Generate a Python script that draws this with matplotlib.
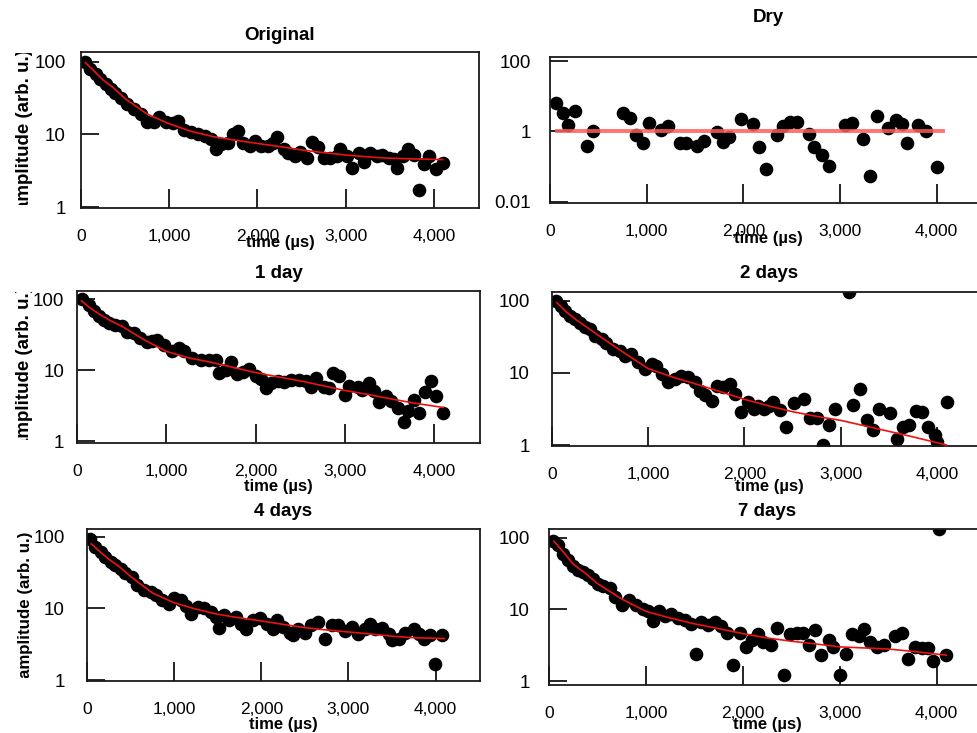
import matplotlib.pyplot as plt
from matplotlib.ticker import FixedLocator, NullLocator, FuncFormatter
from matplotlib.transforms import Bbox, TransformedBbox

plt.rcParams['font.family'] = ['Liberation Sans', 'DejaVu Sans']

W, H = 978, 733

titles = ["Original", "Dry", "1 day", "2 days", "4 days", "7 days"]

# time grid of the fitted curves (us)
fit_t = [50, 150, 250, 375, 500, 750, 1000, 1250, 1500, 1750, 2000,
         2250, 2500, 2750, 3000, 3250, 3500, 3750, 4100]

# --- Original ---
orig_t = [50, 105, 165, 220, 280, 335, 390, 450, 525, 600, 675, 750, 830, 885, 960,
          1040, 1095, 1170, 1245, 1325, 1400, 1475, 1530, 1590, 1665, 1720, 1780,
          1835, 1910, 1970, 2045, 2120, 2180, 2225, 2295, 2350, 2425, 2485, 2560,
          2615, 2690, 2750, 2825, 2900, 2940, 3015, 3070, 3150, 3205, 3280, 3355,
          3415, 3490, 3545, 3585, 3645, 3700, 3775, 3835, 3890, 3945, 4025, 4100]
orig_amp = [100, 80, 68, 58, 50, 42, 37, 32, 26, 22, 19, 15, 15, 17.5, 15,
            14.5, 15.5, 11.6, 10.7, 10.2, 9.4, 8.7, 6.3, 7.3, 7.6, 10, 11,
            7.6, 7, 8.2, 7, 7, 7.6, 9.1, 6.3, 5.5, 5, 5.8, 4.8,
            7.8, 6.8, 4.8, 4.7, 5, 6.3, 5.1, 3.5, 5.5, 4.2, 5.5, 5,
            5.2, 4.8, 4.6, 3.5, 5, 6.3, 5.2, 1.7, 3.9, 5, 3.3, 4]
orig_fit = [97, 74, 56, 43, 31, 19, 14, 11, 9.3, 8.3, 7.5,
            6.8, 6.1, 5.6, 5.2, 4.9, 4.7, 4.6, 4.5]

# --- Dry ---
dry_t = [60, 130, 190, 260, 385, 440, 760, 830, 890, 965,
         1020, 1150, 1225, 1340, 1410, 1520, 1590, 1725, 1790, 1850,
         1975, 2100, 2160, 2230, 2350, 2410, 2480, 2550, 2675, 2735,
         2810, 2885, 3055, 3125, 3240, 3310, 3380, 3495, 3575, 3645,
         3695, 3805, 3885, 4005]
dry_amp = [6.2, 3.4, 1.55, 3.7, 0.38, 1.0, 3.4, 2.4, 0.8, 0.48,
           1.7, 1.07, 1.4, 0.48, 0.48, 0.38, 0.52, 0.96, 0.5, 0.69,
           2.3, 1.58, 0.36, 0.086, 0.78, 1.4, 1.85, 1.85, 0.82, 0.36,
           0.21, 0.107, 1.55, 1.75, 0.62, 0.053, 2.7, 1.25, 2.15, 1.58,
           0.48, 1.48, 1.0, 0.1]
dry_fit_t = [70, 4070]
dry_fit = [1.03, 1.03]

# --- 1 day ---
day1_t = [55, 130, 185, 245, 300, 355, 430, 505, 560, 635,
          710, 785, 840, 895, 970, 1065, 1140, 1195, 1290, 1385, 1475,
          1550, 1590, 1665, 1720, 1795, 1860, 1925, 2000, 2055, 2110, 2170,
          2245, 2320, 2395, 2485, 2560, 2615, 2675, 2765, 2820, 2860,
          2935, 3000, 3045, 3140, 3195, 3265, 3325, 3385, 3460, 3515,
          3590, 3655, 3700, 3775, 3825, 3900, 3965, 4020, 4095]
day1_amp = [100, 84, 68, 58, 52, 46, 44, 42, 35, 34,
            29, 25, 26, 27, 23, 18.5, 20.6, 18.5, 15, 14.2, 14.2,
            14.2, 9.2, 10.2, 13.1, 8.9, 9.6, 10.6, 8.2, 7.6, 5.6, 6.6,
            7.2, 6.9, 7.4, 7.4, 7, 5.8, 7.8, 5.8, 5.6, 9.2,
            8.2, 4.5, 6, 5.8, 5.3, 6.6, 5.2, 3.6, 4.4, 3.7,
            3.0, 1.9, 2.7, 3.8, 2.5, 5, 7.2, 4.3, 2.5]
day1_fit = [95, 75, 62, 50, 42, 27, 18.5, 15, 13, 11, 9.3,
            8.1, 7.1, 6.1, 5.2, 4.6, 4.0, 3.5, 3.0]

# --- 2 days ---
day2_t = [45, 95, 130, 185, 235, 290, 340, 390, 445, 515,
          565, 635, 705, 755, 825, 895, 965, 1035, 1085, 1140,
          1210, 1280, 1345, 1415, 1485, 1540, 1590, 1660, 1710, 1780,
          1850, 1905, 1965, 2040, 2095, 2145, 2200, 2250, 2300, 2370,
          2430, 2510, 2615, 2685, 2755, 2815, 2875, 2940, 3085, 3125,
          3200, 3275, 3335, 3395, 3515, 3590, 3645, 3710, 3780, 3845,
          3910, 3980, 4000, 4100]
day2_amp = [100, 85, 73, 62, 56, 49, 44, 41, 33, 30,
            26, 21.5, 20, 17.3, 18.3, 14.4, 11.3, 13.3, 12.6, 9.7,
            7.4, 8.2, 9.2, 8.7, 7.4, 5.7, 4.9, 4.1, 6.7, 6.3,
            7.1, 5.1, 2.9, 3.9, 3.2, 3.5, 3.2, 3.5, 4.0, 3.1,
            1.8, 3.8, 4.4, 2.4, 2.4, 1.0, 1.9, 3.2, 135, 3.6,
            6.0, 2.2, 1.6, 3.2, 2.8, 1.2, 1.8, 1.9, 3.0, 2.9,
            1.8, 1.4, 1.1, 4.0]
day2_fit = [95, 70, 55, 42, 32, 19, 11.5, 8.8, 7, 5.5, 4.3,
            3.5, 2.9, 2.5, 2.2, 1.85, 1.55, 1.3, 1.0]

# --- 4 days ---
day4_t = [40, 95, 155, 210, 270, 325, 385, 440, 520, 575,
          655, 730, 790, 865, 940, 1000, 1075, 1135, 1190, 1270,
          1345, 1425, 1480, 1520, 1575, 1635, 1710, 1770, 1825, 1905,
          1980, 2060, 2135, 2175, 2250, 2325, 2365, 2425, 2500, 2575,
          2655, 2730, 2810, 2885, 2960, 3040, 3115, 3190, 3250, 3310,
          3385, 3460, 3500, 3575, 3655, 3750, 3810, 3865, 3940, 3990,
          4075]
day4_amp = [95, 72, 62, 52, 45, 40, 36, 31, 27.5, 21,
            18, 17, 15.2, 13, 11.6, 14, 13.3, 11, 8.4, 10.4,
            10.2, 8.9, 7.7, 5.4, 8.2, 6.8, 7.6, 6.1, 5.2, 6.8,
            7.4, 6.1, 5.2, 6.8, 5.5, 4.6, 4.3, 5.2, 4.6, 5.8,
            6.4, 3.8, 5.8, 5.8, 4.9, 5.5, 4.4, 5.2, 6, 5.2,
            5.4, 4.4, 3.6, 3.8, 4.6, 5.2, 4.4, 3.8, 4.2, 1.7,
            4.3]
day4_fit = [80, 62, 49, 38, 28, 16.5, 12, 9.8, 8.3, 7.4, 6.7,
            6.0, 5.4, 5.0, 4.7, 4.4, 4.1, 3.9, 3.8]

# --- 7 days ---
day7_t = [40, 90, 140, 195, 245, 295, 350, 400, 450, 505,
          555, 625, 685, 750, 830, 900, 970, 1020, 1070, 1140,
          1195, 1260, 1330, 1400, 1470, 1520, 1570, 1640, 1715, 1780,
          1840, 1900, 1970, 2030, 2090, 2160, 2210, 2295, 2355, 2430,
          2485, 2555, 2625, 2685, 2745, 2805, 2885, 2935, 3000, 3065,
          3130, 3195, 3255, 3315, 3385, 3460, 3570, 3640, 3710, 3780,
          3850, 3915, 3960, 4030, 4095]
day7_amp = [91, 79, 60, 49, 41, 36, 33, 30, 27, 23,
            21, 20, 15, 11.5, 13.7, 11.5, 10.2, 9.5, 7.0, 9.5,
            8.0, 8.5, 7.6, 7.2, 6.2, 2.4, 6.6, 6.0, 6.6, 5.8,
            4.7, 1.65, 4.7, 3.0, 3.7, 4.5, 3.5, 3.2, 5.5, 1.2,
            4.5, 4.7, 4.7, 3.2, 5.2, 2.3, 3.7, 3.0, 1.2, 2.4,
            4.5, 4.2, 5.4, 3.5, 3.0, 3.2, 4.3, 4.7, 2.0, 3.0,
            2.9, 2.9, 1.9, 135, 2.3]
day7_fit = [90, 63, 43, 32, 23, 14, 9.4, 7.6, 6.3, 5.4, 4.6,
            4.0, 3.6, 3.3, 3.0, 2.9, 2.8, 2.6, 2.3]

series = [
    (orig_t, orig_amp, fit_t, orig_fit),
    (dry_t, dry_amp, dry_fit_t, dry_fit),
    (day1_t, day1_amp, fit_t, day1_fit),
    (day2_t, day2_amp, fit_t, day2_fit),
    (day4_t, day4_amp, fit_t, day4_fit),
    (day7_t, day7_amp, fit_t, day7_fit),
]

# panel boxes in pixels: left, top, right, bottom
boxes = [(81, 52, 479, 208), (550, 57, 986, 203),
         (77, 291, 480, 443), (552, 292, 986, 446),
         (87, 529, 480, 681), (549, 529, 986, 685)]
ylims = [(0.97, 136), (0.0092, 130), (0.95, 131), (0.97, 133), (0.97, 129), (0.88, 133)]
ypads = [11, 14, 9, 16, 16, 14]
ylabel_sizes = [13.5, None, 13.5, None, 12.2, None]
title_pads = [9, 25, 9.5, 10, 9.4, 9.4]
xlabel_offsets = [35, 36, 44, 41, 44, 39]


def fig_box(fig, x0, y0, x1, y1):
    return TransformedBbox(Bbox.from_extents(x0 / W, 1 - y1 / H, x1 / W, 1 - y0 / H),
                           fig.transFigure)


fig = plt.figure(figsize=(W / 100, H / 100), dpi=100)

for i, (title, (t, amp, ft, fit)) in enumerate(zip(titles, series)):
    l, top, r, b = boxes[i]
    ax = fig.add_axes([l / W, 1 - b / H, (r - l) / W, (b - top) / H])
    ax.plot(t, amp, 'o', color='black', ms=9.8, mew=0, zorder=2)
    if i == 1:
        ax.plot(ft, fit, '-', color='#ff5a5a', lw=2.8, alpha=0.85, zorder=3)
    else:
        ax.plot(ft, fit, '-', color='#ee1111', lw=1.2, zorder=3)

    ax.set_yscale('log')
    ax.set_xlim(0, 4510)
    ax.set_ylim(*ylims[i])

    if i == 1:
        yt, ytl = [0.01, 1, 100], ["0.01", "1", "100"]
    else:
        yt, ytl = [1, 10, 100], ["1", "10", "100"]
    ax.yaxis.set_major_locator(FixedLocator(yt))
    ax.set_yticklabels(ytl)
    ax.yaxis.set_minor_locator(NullLocator())
    ax.xaxis.set_major_locator(FixedLocator([0, 1000, 2000, 3000, 4000]))
    ax.xaxis.set_major_formatter(FuncFormatter(lambda v, p: f"{int(v):,}"))

    ax.tick_params(axis='y', direction='in', length=13, width=1.2, pad=ypads[i],
                   labelsize=13.5, left=True, right=False)
    ax.tick_params(axis='x', direction='in', length=13.5, width=1.2, pad=15,
                   labelsize=12.5, bottom=True, top=False)
    for sp in ax.spines.values():
        sp.set_linewidth(1.3)
        sp.set_color('#1a1a1a')

    ax.set_title(title, fontsize=13.5, fontweight='bold', pad=title_pads[i])

    ax.set_xlabel("time (µs)", fontsize=12, fontweight='bold')
    ax.xaxis.set_label_coords(0.5, -xlabel_offsets[i] / (b - top))
    ax.xaxis.label.set_va('center')

    if i % 2 == 0:
        ax.set_ylabel("amplitude (arb. u.)", fontsize=ylabel_sizes[i], fontweight='bold')
        ax.yaxis.set_label_coords((33 - l) / (r - l), 0.5)
        lab = ax.yaxis.label
        lab.set_clip_box(fig_box(fig, 0, top + 1, W, b - 3))
        lab.set_clip_on(True)
    else:
        # labels of the right column stop at the column edge
        for tk in ax.yaxis.get_major_ticks():
            tk.label1.set_clip_box(fig_box(fig, 483, 0, W, H))
            tk.label1.set_clip_on(True)

fig.savefig("out.png", dpi=100)
